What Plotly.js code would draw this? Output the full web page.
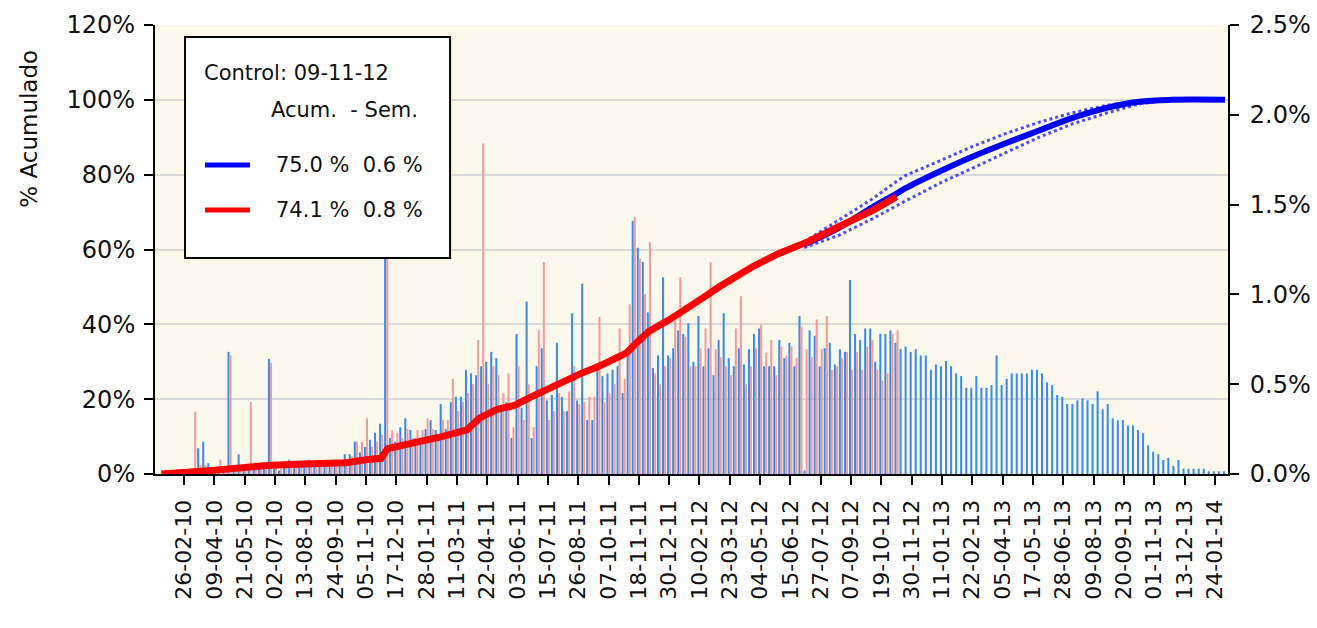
<!DOCTYPE html>
<html>
<head>
<meta charset="utf-8">
<script src="https://cdn.plot.ly/plotly-3.0.1.min.js"></script>
<style>html,body{margin:0;padding:0;background:#fff;}#chart{width:1317px;height:628px;}</style>
</head>
<body>
<div id="chart"></div>
<script>
// ---- data (weeks counted from 26-02-10 = week 0) ----
var firstWeek = -5;
var tickLabels = ["26-02-10","09-04-10","21-05-10","02-07-10","13-08-10","24-09-10","05-11-10","17-12-10","28-01-11","11-03-11","22-04-11","03-06-11","15-07-11","26-08-11","07-10-11","18-11-11","30-12-11","10-02-12","23-03-12","04-05-12","15-06-12","27-07-12","07-09-12","19-10-12","30-11-12","11-01-13","22-02-13","05-04-13","17-05-13","28-06-13","09-08-13","20-09-13","01-11-13","13-12-13","24-01-14"];
var tickStepWeeks = 6;

// weekly % (right axis) - blue series
var blueWeekly = [0,0,0,0,0,0,0,
 0.02,0.143,0.18,0.06,0.02,0.02,0.02,0.68,0.03,0.11,0.03,0.03,0.04,0.04,0.04,0.64,
 0.03,0.02,0.07,0.08,0.07,0.06,0.07,0.08,0.06,0.07,0.06,0.05,0.06,0.07,
 0.11,0.11,0.18,0.12,0.15,0.19,0.23,0.28,1.3,0.2,
 0.18,0.26,0.31,0.245,0.2,0.2,0.25,0.30,0.245,0.39,
 0.25,0.4,0.43,0.43,0.58,0.56,0.55,0.6,0.625,0.68,
 0.645,0.35,0.4,0.2,0.78,0.37,0.96,0.2,0.6,0.7,
 0.41,0.44,0.73,0.43,0.35,0.895,0.41,1.06,0.3,0.3,
 0.6,0.545,0.56,0.58,0.6,0.45,0.7,1.41,1.26,1.18,
 0.9,0.59,0.66,1.095,0.66,0.7,0.8,0.78,0.84,0.625,
 0.88,0.6,0.7,0.55,0.746,0.895,0.645,0.6,0.7,0.61,
 0.695,0.78,0.81,0.6,0.6,0.6,0.746,0.645,0.73,0.6,
 0.88,0.02,0.80,0.77,0.6,0.7,0.73,0.61,0.695,0.68,
 1.08,0.78,0.746,0.81,0.81,0.625,0.78,0.78,0.80,0.73,
 0.695,0.71,0.68,0.695,0.66,0.66,0.58,0.61,0.60,0.63,
 0.60,0.56,0.545,0.48,0.48,0.545,0.48,0.48,0.495,0.66,
 0.495,0.53,0.56,0.56,0.56,0.56,0.58,0.58,0.56,0.51,
 0.495,0.44,0.43,0.39,0.39,0.41,0.42,0.41,0.39,0.46,
 0.36,0.39,0.31,0.30,0.30,0.27,0.27,0.245,0.227,0.16,
 0.124,0.11,0.078,0.09,0.045,0.078,0.03,0.03,0.03,0.03,
 0.03,0.015,0.015,0.015,0.015];

// weekly % (right axis) - red series (up to control date)
var redWeekly = [0,0,0,0,0,0,0,
 0.347,0.05,0.05,0.03,0.02,0.08,0.02,0.66,0.02,0.05,0.02,0.40,0.03,0.03,0.03,0.62,
 0.04,0.03,0.05,0.06,0.05,0.06,0.05,0.06,0.07,0.05,0.06,0.06,0.05,0.06,
 0.08,0.1,0.18,0.18,0.31,0.15,0.18,0.22,1.25,0.245,
 0.23,0.2,0.25,0.2,0.245,0.245,0.31,0.25,0.2,0.3,
 0.30,0.53,0.35,0.4,0.45,0.5,0.746,1.84,0.5,0.6,
 0.55,0.45,0.56,0.26,0.6,0.3,0.5,0.26,0.80,1.18,
 0.3,0.35,0.45,0.35,0.46,0.6,0.39,0.4,0.43,0.43,
 0.875,0.4,0.45,0.5,0.81,0.53,0.945,1.43,1.2,1.0,
 1.29,0.56,0.5,0.6,0.645,0.85,1.095,0.765,0.6,0.6,
 0.7,0.81,1.18,0.695,0.65,0.6,0.55,0.81,0.99,0.5,
 0.6,0.7,0.83,0.675,0.746,0.55,0.71,0.66,0.71,0.645,
 0.82,0.695,0.65,0.86,0.695,0.88,0.58,0.6,0.645,0.68,
 0.58,0.68,0.58,0.71,0.746,0.58,0.52,0.56,0.78,0.80];

// cumulative % (left axis) - red
var redCumWeeks = [-4.5,0,2,5,7.5,10,16.5,22,28,32,36.5,39,40.3,44.5,51,56,58.5,62,65.5,68.5,72,75.3,78.6,82,85,87.5,89.5,92,96,99.3,102.6,106,109.2,112.5,117.5,123.5,130,136.5,141];
var redCum = [0,0.2,0.6,0.9,1.3,1.6,2.3,2.6,2.9,3.0,3.9,4.2,6.8,8.0,10.0,11.8,15.0,17.3,18.4,20.5,22.9,24.7,26.9,28.7,30.6,32.3,35.0,38.1,41.2,43.9,47.0,50.1,52.9,55.4,58.8,62.1,66.4,70.6,74.1];

// cumulative % (left axis) - blue, with upper / lower band
var blueCumWeeks = [122.7,129.6,136.2,141.1,142.8,149.4,156,162.6,169.2,175.7,182.4,189,195.5,206];
var blueCum      = [61.3,65.8,71.3,75.0,76.4,80.8,84.8,88.4,91.8,95.1,97.8,99.5,100,100];
var blueUpper    = [62.0,67.8,73.5,78.3,79.8,83.6,87.5,91.0,94.0,96.5,98.5,99.8,100,100];
var blueLower    = [60.5,63.8,68.2,71.8,73.0,77.6,81.7,86.0,90.0,93.5,96.4,98.9,100,100];

var yTitle = "% Acumulado";
var legendTitle = "Control: 09-11-12";
var legendHeader = "Acum.\u00a0\u00a0- Sem.";
var legendRows = [
  {label: "75.0\u00a0%\u00a0\u00a00.6\u00a0%", color: "#0000ff"},
  {label: "74.1\u00a0%\u00a0\u00a00.8\u00a0%", color: "#ff0000"}
];

// ---- build ----
var blueX = blueWeekly.map(function(_, i){ return firstWeek + i; });
var redX = redWeekly.map(function(_, i){ return firstWeek + i; });
var tickVals = tickLabels.map(function(_, i){ return i * tickStepWeeks; });

var FONT = "DejaVu Sans, Verdana, sans-serif";

var traces = [
  {type:'bar', x: blueX, y: blueWeekly, marker:{color:'#3a8ee8', line:{width:0}}, xaxis:'x', yaxis:'y', showlegend:false, hoverinfo:'skip'},
  {type:'bar', x: redX, y: redWeekly, marker:{color:'#f39c9c', line:{width:0}}, xaxis:'x', yaxis:'y', showlegend:false, hoverinfo:'skip'},
  {type:'scatter', mode:'lines', x: blueCumWeeks, y: blueUpper, xaxis:'x', yaxis:'y2', line:{color:'rgba(20,20,255,0.75)', width:3, dash:'dot'}, showlegend:false, hoverinfo:'skip'},
  {type:'scatter', mode:'lines', x: blueCumWeeks, y: blueLower, xaxis:'x', yaxis:'y2', line:{color:'rgba(20,20,255,0.75)', width:3, dash:'dot'}, showlegend:false, hoverinfo:'skip'},
  {type:'scatter', mode:'lines', x: blueCumWeeks, y: blueCum, xaxis:'x', yaxis:'y2', line:{color:'#0000ff', width:6, shape:'spline'}, showlegend:false, hoverinfo:'skip'},
  {type:'scatter', mode:'lines', x: redCumWeeks, y: redCum, xaxis:'x', yaxis:'y2', line:{color:'#ff0000', width:7}, showlegend:false, hoverinfo:'skip'}
];

// legend box (drawn as shapes + text)
var bx0 = 0.028, bx1 = 0.275, by0 = 0.481, by1 = 0.973;
var shapes = [
  {type:'rect', xref:'paper', yref:'paper', x0:bx0, x1:bx1, y0:by0, y1:by1, fillcolor:'#ffffff', line:{color:'#000000', width:2}, layer:'above'}
];
var annotations = [
  {xref:'paper', yref:'paper', x:0.044, y:0.893, xanchor:'left', yanchor:'middle', text:legendTitle, showarrow:false, font:{family:FONT, size:21, color:'#111'}},
  {xref:'paper', yref:'paper', x:0.106, y:0.811, xanchor:'left', yanchor:'middle', text:legendHeader, showarrow:false, font:{family:FONT, size:21, color:'#111'}},
  {xref:'paper', yref:'paper', x:-0.117, y:0.77, xanchor:'center', yanchor:'middle', textangle:-90, text:yTitle, showarrow:false, font:{family:FONT, size:23, color:'#111'}}
];
var rowY = [0.688, 0.588];
legendRows.forEach(function(r, i){
  shapes.push({type:'line', xref:'paper', yref:'paper', x0:0.0466, x1:0.0885, y0:rowY[i], y1:rowY[i], line:{color:r.color, width:5}, layer:'above'});
  annotations.push({xref:'paper', yref:'paper', x:0.111, y:rowY[i], xanchor:'left', yanchor:'middle', text:r.label, showarrow:false, font:{family:FONT, size:21, color:'#111'}});
});

var layout = {
  width:1317, height:628,
  margin:{l:155, r:89, t:25, b:154, pad:0},
  paper_bgcolor:'#ffffff', plot_bgcolor:'#fdf8ec',
  font:{family:FONT, color:'#111', size:20},
  barmode:'group', bargap:0.18, bargroupgap:0,
  showlegend:false,
  xaxis:{range:[-5.75, 206.6], tickmode:'array', tickvals:tickVals, ticktext:tickLabels, tickangle:-90,
    ticks:'outside', ticklen:9, tickwidth:2, tickcolor:'#000', showline:true, linecolor:'#000', linewidth:2,
    ticklabelstandoff:6,
    showgrid:false, zeroline:false, tickfont:{family:FONT, size:22, color:'#111'}, fixedrange:true},
  yaxis:{side:'right', range:[0,2.5], dtick:0.5, tick0:0, tickformat:'.1f', ticksuffix:'%',
    ticks:'outside', ticklen:9, tickwidth:2, tickcolor:'#000', showline:true, linecolor:'#000', linewidth:2,
    ticklabelstandoff:6,
    showgrid:false, zeroline:false, tickfont:{family:FONT, size:24, color:'#111'}},
  yaxis2:{overlaying:'y', side:'left', range:[0,120], dtick:20, tick0:0, ticksuffix:'%',
    ticks:'outside', ticklen:9, tickwidth:2, tickcolor:'#000', showline:true, linecolor:'#000', linewidth:2,
    ticklabelstandoff:4,
    showgrid:true, gridcolor:'#d9d9d9', gridwidth:2, zeroline:false,
    tickfont:{family:FONT, size:24, color:'#111'}},
  shapes:shapes,
  annotations:annotations
};

Plotly.newPlot('chart', traces, layout, {displayModeBar:false, staticPlot:true});
</script>
</body>
</html>
